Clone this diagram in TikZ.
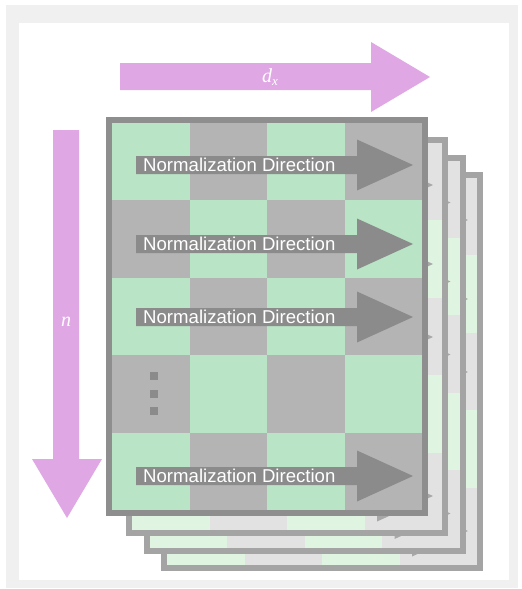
\documentclass[tikz,border=0pt]{standalone}
\usepackage{fontspec}
\setmainfont{Liberation Sans}
\newfontfamily\labelserif{Liberation Serif}

\definecolor{framegray}{HTML}{F0F0F0}
\definecolor{cellgreen}{HTML}{B9E4C5}
\definecolor{cellgray}{HTML}{B4B4B4}
\definecolor{edgegray}{HTML}{8E8E8E}
\definecolor{arrowgray}{HTML}{8B8B8B}
\definecolor{palegreen}{HTML}{E0F5E1}
\definecolor{palegray}{HTML}{E2E2E2}
\definecolor{paleedge}{HTML}{A4A4A4}
\definecolor{palearrow}{HTML}{A8A8A8}
\definecolor{axispink}{HTML}{DFA8E4}

\tikzset{
  normtext/.style={anchor=west, inner sep=0pt, text=white,
    font=\fontsize{18.6}{20}\selectfont},
  axislabel/.style={inner sep=0pt, text=white,
    font=\fontsize{20}{20}\labelserif\itshape},
  dotsq/.style={fill=arrowgray, inner sep=0pt, minimum size=8pt},
}

% One sheet of the stack: 5x4 checkerboard, four direction arrows, frame.
% #1 shift, #2 green cells, #3 gray cells, #4 frame, #5 arrows
\newcommand\sheet[5]{%
  \begin{scope}[shift={#1}]
    \foreach \r in {0,...,4}{
      \foreach \c in {0,...,3}{
        \pgfmathtruncatemacro\cellsum{\r+\c}
        \ifodd\cellsum \colorlet{cellc}{#3}\else \colorlet{cellc}{#2}\fi
        \fill[cellc] (112+\c*77.5, 123+\r*77.4) rectangle ++(77.5,77.4);
      }
    }
    \foreach \yy in {165,244,317,476}{
      \fill[#5] (136,\yy-9) -- (357,\yy-9) -- (357,\yy-25.5) -- (413,\yy)
        -- (357,\yy+25.5) -- (357,\yy+9) -- (136,\yy+9) -- cycle;
    }
    \draw[#4, line width=6pt] (109,120) rectangle (425,513);
  \end{scope}}

\begin{document}
\begin{tikzpicture}[x=1pt, y=-1pt]
  \useasboundingbox (0,0) rectangle (522,589);
  % panel
  \fill[framegray] (6,5) rectangle (518,588);
  \fill[white] (19,23) rectangle (509,580);

  % stacked sheets, back to front
  \sheet{(55,55)}{palegreen}{palegray}{paleedge}{palearrow}
  \sheet{(37.5,37.5)}{palegreen}{palegray}{paleedge}{palearrow}
  \sheet{(20,20)}{palegreen}{palegray}{paleedge}{palearrow}
  \sheet{(0,0)}{cellgreen}{cellgray}{edgegray}{arrowgray}

  % arrow captions on the front sheet
  \node[normtext] (nd1) at (143,165) {Normalization Direction};
  \node[normtext] (nd2) at (143,244) {Normalization Direction};
  \node[normtext] (nd3) at (143,317) {Normalization Direction};
  \node[normtext] (nd5) at (143,476) {Normalization Direction};

  % vertical ellipsis in row four
  \node[dotsq] (dot1) at (154,376) {};
  \node[dotsq] (dot2) at (154,393.5) {};
  \node[dotsq] (dot3) at (154,411) {};

  % feature axis d_x
  \fill[axispink] (120,63) -- (371,63) -- (371,42) -- (430,77)
    -- (371,112) -- (371,90) -- (120,90) -- cycle;
  \node[axislabel] (dxlabel) at (270,77)
    {d\raisebox{-0.35ex}{\fontsize{13}{13}\selectfont x}};

  % token axis n
  \fill[axispink] (53,130) -- (79,130) -- (79,459) -- (102,459) -- (67,518)
    -- (32,459) -- (53,459) -- cycle;
  \node[axislabel] (nlabel) at (66,322) {n};
\end{tikzpicture}
\end{document}
